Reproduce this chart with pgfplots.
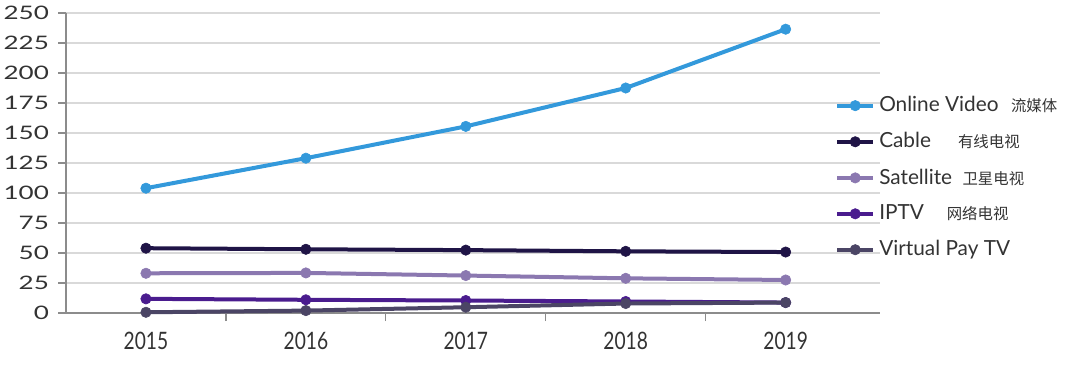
\documentclass[border=0pt]{standalone}
\usepackage{graphicx}
\usepackage{fontspec}
\setmainfont{Lato}
\newfontfamily\cjk{Noto Sans CJK SC}
\usepackage{pgfplots}
\pgfplotsset{compat=1.18}
\definecolor{cOnline}{HTML}{3399DB}
\definecolor{cCable}{HTML}{1F1446}
\definecolor{cSat}{HTML}{8B78B0}
\definecolor{cIPTV}{HTML}{4A1C8E}
\definecolor{cVirt}{HTML}{4B4565}
\definecolor{cGrid}{HTML}{D9D9D9}
\definecolor{cAxis}{HTML}{8C8C8C}
\definecolor{cText}{HTML}{333333}
\newcommand{\zh}[1]{{\cjk\fontsize{7.7}{9}\selectfont #1}}
\newcommand{\yr}[1]{\scalebox{0.8}[1]{#1}}
\begin{document}
\begin{tikzpicture}
\useasboundingbox (-33pt,-25.5pt) rectangle (507pt,156.5pt);
\begin{axis}[
  at={(0,0)}, anchor=south west,
  scale only axis, width=407pt, height=150pt,
  xmin=-0.5, xmax=4.59, ymin=0, ymax=250,
  axis x line=bottom, axis y line=left,
  axis line style={-, draw=cAxis, line width=0.6pt},
  xtick={0,1,2,3,4},
  xticklabels={\yr{2015},\yr{2016},\yr{2017},\yr{2018},\yr{2019}},
  minor xtick={0.5,1.5,2.5,3.5},
  major x tick style={draw=none},
  minor x tick style={draw=cAxis, line width=0.6pt},
  ytick={0,25,...,250},
  ytick style={draw=cAxis, line width=0.6pt},
  tick align=outside,
  major tick length=4pt, minor tick length=4pt,
  ymajorgrids, major grid style={draw=cGrid, line width=0.6pt},
  /pgf/number format/assume math mode=true,
  yticklabel={\scalebox{1.4}[1]{\pgfmathprintnumber{\tick}}},
  yticklabel style={font=\fontsize{9.3}{11}\selectfont, text=cText, xshift=-1pt},
  xticklabel style={font=\fontsize{12}{14}\selectfont, text=cText, yshift=-2pt},
  legend style={at={(rel axis cs:0.945,0.735)}, anchor=north west, draw=none, fill=none,
    font=\fontsize{10.4}{12}\selectfont, text=cText, row sep=4.9pt,
    inner sep=0pt, outer sep=0pt},
  legend cell align=left,
  legend image code/.code={\draw[mark repeat=2, mark phase=2, #1] plot coordinates {(0pt,0pt) (9pt,0pt) (18pt,0pt)};},
  every axis plot/.append style={line width=2pt, mark=*, mark size=2.6pt},
  clip=false,
]
\addplot[color=cOnline, mark options={solid, fill=cOnline, draw=cOnline, line width=0.3pt}] coordinates {(0,104) (1,129) (2,155.5) (3,187.5) (4,236.5)};
\addlegendentry{Online Video\hspace{0.6em}\zh{流媒体}}
\addplot[color=cCable, mark options={solid, fill=cCable, draw=cCable, line width=0.3pt}] coordinates {(0,54) (1,53.1) (2,52.4) (3,51.4) (4,50.8)};
\addlegendentry{Cable\hspace{1.3em}\zh{有线电视}}
\addplot[color=cSat, mark options={solid, fill=cSat, draw=cSat, line width=0.3pt}] coordinates {(0,33.1) (1,33.4) (2,31.2) (3,28.9) (4,27.5)};
\addlegendentry{Satellite\hspace{0.5em}\zh{卫星电视}}
\addplot[color=cIPTV, mark options={solid, fill=cIPTV, draw=cIPTV, line width=0.3pt}] coordinates {(0,11.8) (1,11) (2,10.4) (3,9.6) (4,8.7)};
\addlegendentry{IPTV\hspace{1.1em}\zh{网络电视}}
\addplot[color=cVirt, mark options={solid, fill=cVirt, draw=cVirt, line width=0.3pt}] coordinates {(0,0.6) (1,2) (2,4.8) (3,7.9) (4,8.7)};
\addlegendentry{Virtual Pay TV}
\end{axis}
\end{tikzpicture}
\end{document}
